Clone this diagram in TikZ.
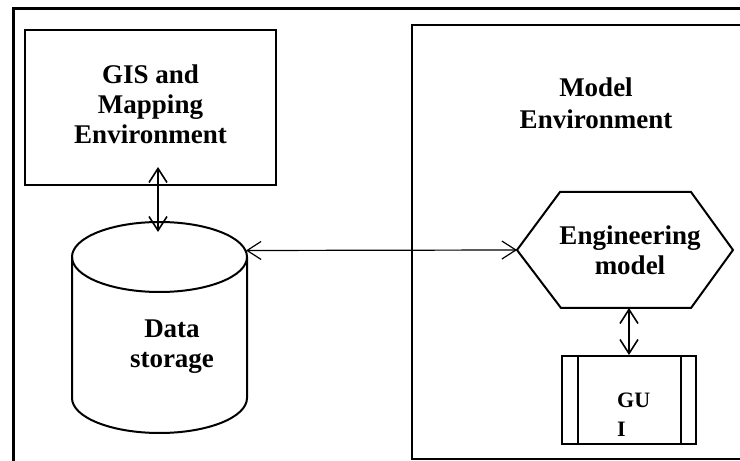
\documentclass[tikz,border=0pt]{standalone}
\usepackage{fontspec}
\setmainfont{Liberation Serif}
\usetikzlibrary{arrows.meta,calc}
\begin{document}
\begin{tikzpicture}[x=1pt,y=1pt,
  frame/.style={line width=2pt, line join=miter},
  label/.style={font=\fontsize{27}{30}\selectfont\bfseries, align=center, inner sep=0pt},
  barb/.tip={Straight Barb[length=14pt,width=18pt]},
  link/.style={line width=1.2pt, barb-barb},
  thicklink/.style={line width=1.6pt, barb-barb},
]
\useasboundingbox (0,0) rectangle (740,461);

% outer frame, open on the right and at the bottom
\draw[line width=3pt] (13,0) -- (13,452) -- (740,452);

% model environment container
\draw[frame] (740,435.5) -- (412,435.5) -- (412,2) -- (740,2);
\node[label, font=\fontsize{27}{32}\selectfont\bfseries] (modeltxt) at (596,358) {Model\\Environment};

% GIS and mapping box
\node[draw, frame, minimum width=251pt, minimum height=155pt] (gis) at (150.5,353.5) {};
\node[label] (gistxt) at (150.5,356.5) {GIS and\\Mapping\\Environment};

% data storage cylinder
\draw[frame] (159.5,204) ellipse [x radius=87.5, y radius=35];
\draw[frame] (72,204) -- (72,63) arc [start angle=180, end angle=360, x radius=87.5, y radius=35] -- (247,204);
\node[label] (ds) at (172,114) {Data\\storage};
\coordinate (dsTop) at (158,229);
\coordinate (dsEast) at (246,210.5);

% engineering model hexagon
\coordinate (hexW) at (517,211);
\coordinate (hexS) at (629,153);
\draw[frame] (hexW) -- (560,269) -- (691,269) -- (733,211) -- (691,153) -- (561,153) -- cycle;
\node[label] (eng) at (630,211) {Engineering\\model};

% GUI box with side bars
\node[draw, frame, minimum width=134pt, minimum height=88pt, inner sep=0pt] (gui) at (629,61) {};
\draw[frame] ([xshift=17pt]gui.north west) -- ([xshift=17pt]gui.south west);
\draw[frame] ([xshift=-16pt]gui.north east) -- ([xshift=-16pt]gui.south east);
\node[font=\fontsize{22}{29}\selectfont\bfseries, align=left, inner sep=0pt, anchor=west] (guitxt) at (617,46) {GU\\I};

% connectors
\coordinate (gisPort) at (158,294);
\draw[thicklink] (gisPort) -- (dsTop);
\draw[link] (dsEast) -- (hexW);
\draw[thicklink] (hexS) -- (gui.north);
\end{tikzpicture}
\end{document}
